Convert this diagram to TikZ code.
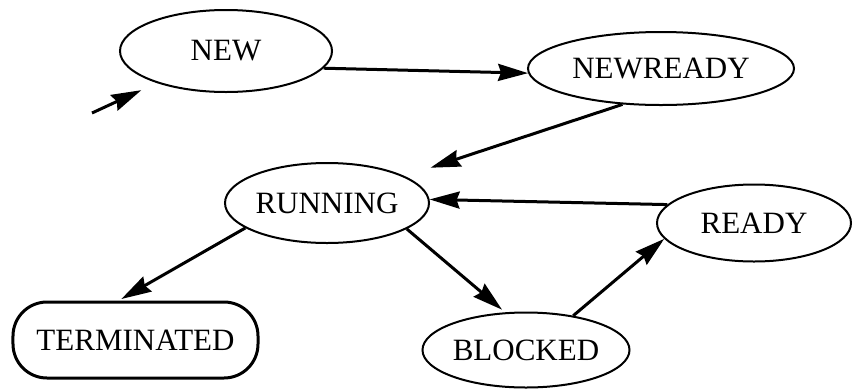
\documentclass[tikz,border=0pt]{standalone}
\usepackage{fontspec}
\setmainfont{Liberation Serif}
\usetikzlibrary{shapes.geometric,arrows.meta}

\tikzset{
  state/.style={draw, ellipse, line width=2bp, inner sep=0pt,
    font=\fontsize{31bp}{31bp}\selectfont},
  final/.style={draw, rectangle, rounded corners=34bp, line width=3bp,
    inner sep=0pt, minimum width=245bp, minimum height=76bp,
    font=\fontsize{31bp}{31bp}\selectfont},
  trans/.style={line width=3bp, -{Stealth[length=30bp, width=17bp, inset=3bp]}}
}

\begin{document}
\begin{tikzpicture}[x=1bp, y=-1bp]
  \useasboundingbox (0,0) rectangle (855,389);

  % states
  \node[state, minimum width=212bp, minimum height=82bp] (new) at (226,51) {NEW};
  \node[state, minimum width=266bp, minimum height=73bp] (nr) at (661,68.5) {NEWREADY};
  \node[state, minimum width=204bp, minimum height=80bp] (run) at (327,203) {RUNNING};
  \node[state, minimum width=194bp, minimum height=77bp] (rdy) at (754,223) {READY};
  \node[state, minimum width=202bp, minimum height=75bp] (blk) at (526,350) {BLOCKED};
  \node[final] (term) at (135.5,340) {TERMINATED};

  % entry point
  \coordinate (init) at (92,113);

  % transitions
  \draw[trans, shorten >=17bp] (init) -- (new);
  \draw[trans] (new.-10) -- (nr.182);
  \draw[trans, shorten >=27bp] (nr.223) -- (run.19);
  \draw[trans] (rdy.168) -- (run.2);
  \draw[trans, shorten >=3bp] (run.197) -- (term.113);
  \draw[trans, shorten >=4bp] (run.-18) -- (blk.119);
  \draw[trans] (blk.36) -- (rdy.190);
\end{tikzpicture}
\end{document}
